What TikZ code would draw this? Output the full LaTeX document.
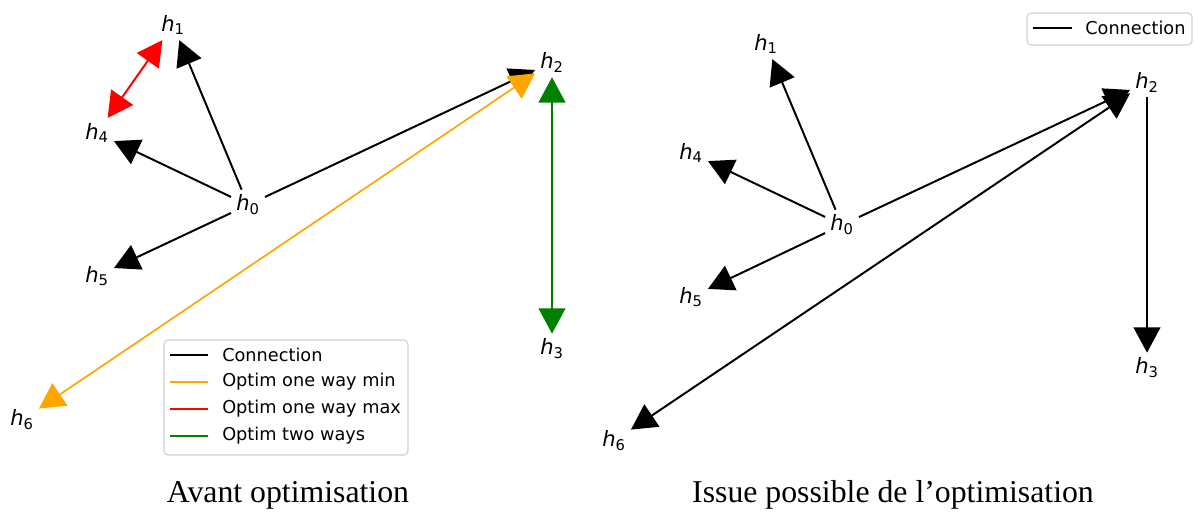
\documentclass[tikz,border=0pt]{standalone}
\usepackage{fontspec}
\setmainfont{Liberation Serif}
\newfontfamily\dejavu{DejaVu Sans}
\definecolor{MPLorange}{HTML}{FFA500}
\definecolor{MPLred}{HTML}{FF0000}
\definecolor{MPLgreen}{HTML}{008000}
\definecolor{MPLframe}{HTML}{D0D0D0}
\usetikzlibrary{arrows.meta, positioning}
\newcommand{\hlab}[1]{\textit{h}\textsubscript{#1}}
\tikzset{
   mplhead/.tip={Triangle[length=18pt, width=19pt]},
   hlabel/.style={font=\dejavu\fontsize{15}{18}\selectfont, inner sep=3.5pt},
   conn/.style={line width=1.4pt, black, -mplhead},
   legtext/.style={font=\dejavu\fontsize{12.6}{15}\selectfont, anchor=west, inner sep=0pt},
   legbox/.style={draw=MPLframe, line width=0.8pt, rounded corners=3pt},
   caption/.style={font=\fontsize{22.6}{27}\selectfont}
}

\begin{document}
\begin{tikzpicture}[x=0.025cm, y=-0.025cm]
   \useasboundingbox (0,0) rectangle (1194,513);
   % Left: before optimisation
   \node[hlabel] (L0) at (248,205) {\hlab{0}};
   \node[hlabel] (L1) at (173,25) {\hlab{1}};
   \node[hlabel] (L2) at (552,62) {\hlab{2}};
   \node[hlabel] (L3) at (552,349) {\hlab{3}};
   \node[hlabel] (L4) at (97,133) {\hlab{4}};
   \node[hlabel] (L5) at (97,276) {\hlab{5}};
   \node[hlabel] (L6) at (22,420) {\hlab{6}};
   % Connections
   \draw[conn] (L0) -- (L1);
   \draw[conn] (L0) -- (L4);
   \draw[conn] (L0) -- (L5);
   \draw[conn] (L0) -- (L2);
   % Optimised links
   \draw[MPLred, line width=1.4pt, mplhead-mplhead] (L4) -- (L1);
   \draw[MPLorange, line width=1.2pt, mplhead-mplhead] (L6) -- (L2);
   \draw[MPLgreen, line width=1.4pt, mplhead-mplhead] (L2) -- (L3);
   % Legend
   \draw[legbox] (164,340) rectangle (408,455);
   \draw[black, line width=1.2pt] (170,355) -- (208,355);
   \draw[MPLorange, line width=1.2pt] (170,382) -- (208,382);
   \draw[MPLred, line width=1.2pt] (170,409) -- (208,409);
   \draw[MPLgreen, line width=1.2pt] (170,436) -- (208,436);
   \node[legtext] (legA) at (222,355) {Connection};
   \node[legtext] (legB) at (222,382) {Optim one way min};
   \node[legtext] (legC) at (222,409) {Optim one way max};
   \node[legtext] (legD) at (222,436) {Optim two ways};
   \node[caption] (capL) at (288,495) {Avant optimisation};

   % Right: possible outcome
   \node[hlabel] (R0) at (842,225) {\hlab{0}};
   \node[hlabel] (R1) at (766,44) {\hlab{1}};
   \node[hlabel] (R2) at (1147,82) {\hlab{2}};
   \node[hlabel] (R3) at (1147,368) {\hlab{3}};
   \node[hlabel] (R4) at (691,153) {\hlab{4}};
   \node[hlabel] (R5) at (691,297) {\hlab{5}};
   \node[hlabel] (R6) at (614,441) {\hlab{6}};
   % Connections
   \draw[conn] (R0) -- (R1);
   \draw[conn] (R0) -- (R4);
   \draw[conn] (R0) -- (R5);
   \draw[conn] (R0) -- (R2);
   \draw[conn, mplhead-mplhead] (R6) -- (R2);
   \draw[conn] (R2) -- (R3);
   % Legend
   \draw[legbox] (1027,13) rectangle (1192,45);
   \draw[black, line width=1.2pt] (1033,28) -- (1072,28);
   \node[legtext] (legR) at (1085,28) {Connection};
   \node[caption] (capR) at (893,495) {Issue possible de l’optimisation};
\end{tikzpicture}
\end{document}
